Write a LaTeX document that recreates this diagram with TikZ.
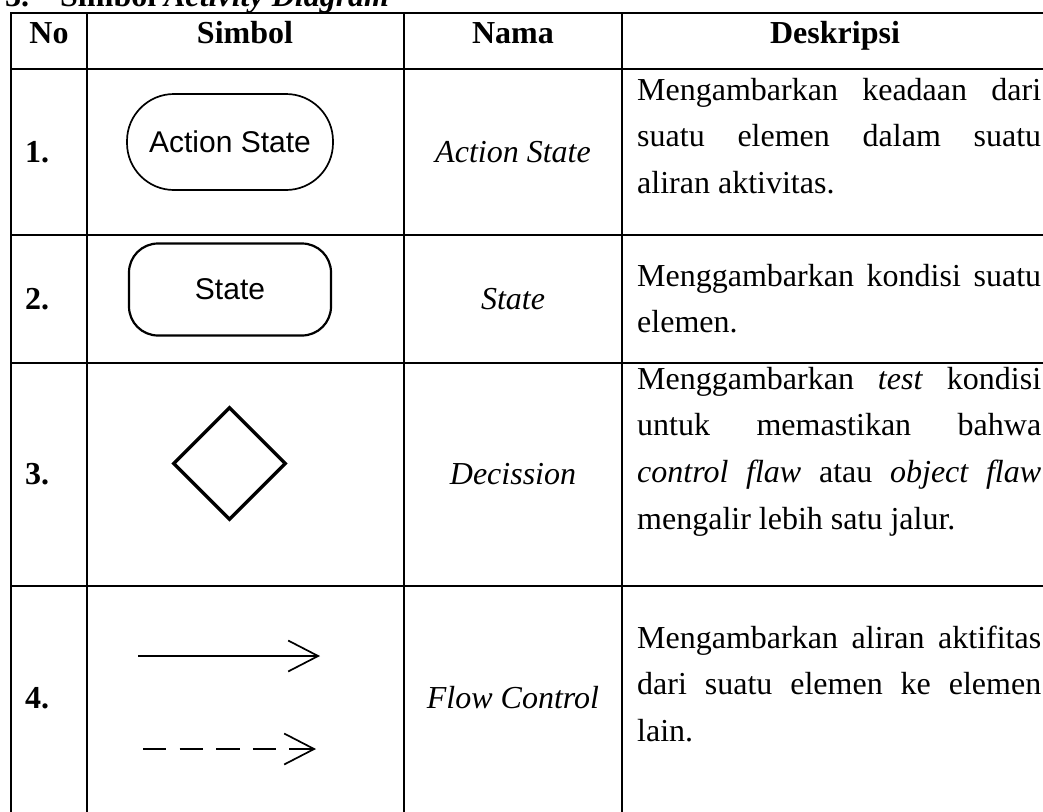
\documentclass[tikz,border=0pt]{standalone}
\usepackage{fontspec}
\setmainfont{Liberation Serif}
\newfontfamily\arialfont{Liberation Sans}
\usetikzlibrary{positioning,shapes.geometric,arrows.meta}

\newcommand\cellfont{\fontsize{32}{46.7}\selectfont}
\newcommand\symfont{\arialfont\fontsize{30}{36}\selectfont}
\newcommand\jline[1]{\makebox[404pt][s]{#1}}

\begin{document}
\begin{tikzpicture}[x=1pt,y=-1pt]
    \tikzstyle{every node}=[inner sep=0pt, font=\cellfont]
    \tikzstyle{head}=[font=\cellfont\bfseries, anchor=base]
    \tikzstyle{nomor}=[font=\cellfont\bfseries, anchor=west]
    \tikzstyle{nama}=[font=\cellfont\itshape]
    \tikzstyle{desc}=[anchor=north west, align=left]
    \tikzset{rule/.style={line width=2.8pt, line cap=rect}};

    \clip (0,0) rectangle (1043,811);

    % judul
    \node[anchor=base west, font=\cellfont\bfseries] (no3) at (5,6) {3.};
    \node[anchor=base west, font=\cellfont\bfseries] (judul) at (60,6)
        {Simbol \textit{Activity Diagram}};

    % garis tabel
    \foreach \y in {13,69,235,363,586}
        \draw[rule] (11,\y) -- (1050,\y);
    \foreach \x in {11,87,404,622,1050}
        \draw[rule] (\x,13) -- (\x,815);

    % kepala tabel
    \node[head] (hno)   at (49,43)  {No};
    \node[head] (hsim)  at (245,43) {Simbol};
    \node[head] (hnama) at (513,43) {Nama};
    \node[head] (hdesk) at (835,43) {Deskripsi};

    % nomor
    \node[nomor] (n1) at (25,152) {1.};
    \node[nomor] (n2) at (25,299) {2.};
    \node[nomor] (n3) at (25,474) {3.};
    \node[nomor] (n4) at (25,698) {4.};

    % simbol
    \node[draw, line width=1.7pt, rounded corners=47pt,
          minimum width=206pt, minimum height=96pt, font=\symfont]
          (act) at (230,142) {Action State};
    \node[draw, line width=2.2pt, rounded corners=29pt,
          minimum width=202pt, minimum height=92pt, font=\symfont]
          (st) at (230,289.5) {State};
    \node[draw, diamond, line width=3.3pt, aspect=1,
          minimum width=113pt, minimum height=113pt]
          (dec) at (229.5,463.5) {};

    \tikzset{flowline/.style={line width=1.7pt,
             -{Straight Barb[length=30pt,width=31pt]}}}
    \coordinate (fa) at (138,656);
    \coordinate (fb) at (320,656);
    \coordinate (ga) at (143,749);
    \coordinate (gb) at (316,749);
    \draw[flowline] (fa) -- (fb);
    \draw[flowline, dash pattern=on 23.3pt off 13.3pt] (ga) -- (gb);

    % nama
    \node[nama] (m1) at (513,152) {Action State};
    \node[nama] (m2) at (513,299) {State};
    \node[nama] (m3) at (513,474) {Decission};
    \node[nama] (m4) at (513,698) {Flow Control};

    % deskripsi
    \node[desc] (d1) at (637,67.3)
        {\strut\jline{Mengambarkan keadaan dari}\\
         \jline{suatu elemen dalam suatu}\\
         aliran aktivitas.};
    \node[desc] (d2) at (637,253.3)
        {\strut\jline{Menggambarkan kondisi suatu}\\
         elemen.};
    \node[desc] (d3) at (637,356.3)
        {\strut\jline{Menggambarkan \textit{test} kondisi}\\
         \jline{untuk memastikan bahwa}\\
         \jline{\textit{control flaw} atau \textit{object flaw}}\\
         mengalir lebih satu jalur.};
    \node[desc] (d4) at (637,615.3)
        {\strut\jline{Mengambarkan aliran aktifitas}\\
         \jline{dari suatu elemen ke elemen}\\
         lain.};
\end{tikzpicture}
\end{document}
